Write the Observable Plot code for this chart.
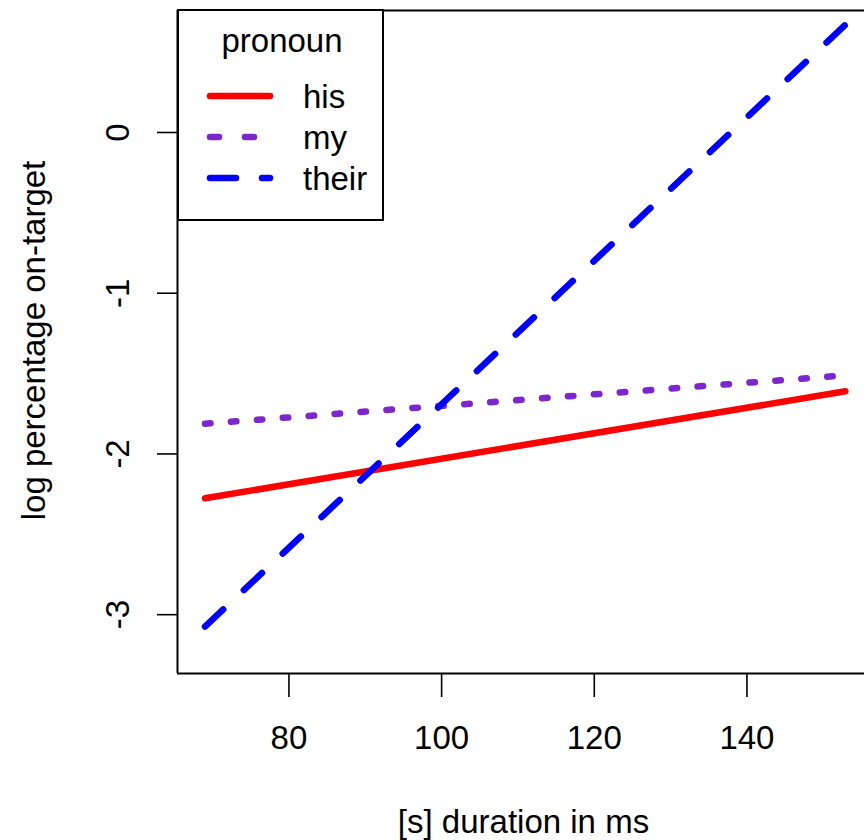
<!DOCTYPE html>
<html><head><meta charset="utf-8">
<script src="https://cdn.jsdelivr.net/npm/d3@7"></script>
<script src="https://cdn.jsdelivr.net/npm/@observablehq/plot@0.6"></script>
<style>
body{margin:0;background:#fff;font-family:"Liberation Sans",Arial,sans-serif;}
#wrap{position:relative;width:864px;height:840px;}
</style></head><body><div id="wrap"></div>
<script>
// ---- data ----
const pronouns = ["his", "my", "their"];
const durationMs = [69.0, 152.9];
const hisValues = [-2.276, -1.610];
const myValues = [-1.812, -1.511];
const theirValues = [-3.074, 0.670];
const xTicks = [80, 100, 120, 140];
const yTicks = [0, -1, -2, -3];
const xTitle = "[s] duration in ms";
const yTitle = "log percentage on-target";
const legendTitle = "pronoun";

const colors = {his: "#ff0000", my: "#7d26cd", their: "#0000ff"};
const dashes = {his: null, my: "5.5,20.5", their: "25,28.3"};
const legendDashes = {his: null, my: "9,26", their: "26,26"};

const seriesValues = {his: hisValues, my: myValues, their: theirValues};
const rows = pronouns.flatMap(p => durationMs.map((x, i) => ({pronoun: p, x, y: seriesValues[p][i]})));

const xDomain = [65.4, 155.4];
const yDomain = [-3.366, 0.759];
const FS = 33;

const lineMarks = pronouns.map(p => Plot.line(rows.filter(r => r.pronoun === p), {
  x: "x", y: "y", stroke: colors[p], strokeWidth: 6.5,
  strokeDasharray: dashes[p] || undefined, strokeLinecap: "round", strokeLinejoin: "round"
}));

const chart = Plot.plot({
  width: 864, height: 840,
  marginLeft: 177, marginRight: 0, marginTop: 10, marginBottom: 167,
  style: {fontFamily: "'Liberation Sans', Arial, sans-serif", background: "#fff", color: "#000"},
  x: {domain: xDomain},
  y: {domain: yDomain},
  marks: [
    ...lineMarks,
    Plot.ruleX([xDomain[0]], {stroke: "#000", strokeWidth: 2}),
    Plot.ruleY(yDomain, {stroke: "#000", strokeWidth: 2}),
    Plot.axisX(xTicks, {tickSize: 24, tickPadding: 28, fontSize: FS, label: null, strokeWidth: 1.6, stroke: "#000", fill: "#000"}),
    Plot.axisY(yTicks, {tickSize: 20, tickFormat: () => "", label: null, strokeWidth: 1.6, stroke: "#000"}),
    Plot.text(yTicks, {y: d => d, text: d => String(d), frameAnchor: "left", rotate: -90, dx: -49,
      textAnchor: "middle", lineAnchor: "bottom", fontSize: FS, fill: "#000"}),
    Plot.text([xTitle], {text: d => d, frameAnchor: "bottom", dx: 2.5, dy: 159, lineAnchor: "bottom", fontSize: FS, fill: "#000"}),
    Plot.text([yTitle], {text: d => d, frameAnchor: "left", rotate: -90, dx: -133, dy: -1.5,
      textAnchor: "middle", lineAnchor: "bottom", fontSize: FS, fill: "#000"})
  ]
});
document.getElementById("wrap").appendChild(chart);

// ---- legend (top-left inside the box, like R's legend("topleft")) ----
const svg = d3.select(chart);
const lg = svg.append("g").attr("font-family", "'Liberation Sans', Arial, sans-serif").attr("font-size", FS);
lg.append("rect").attr("x", 178).attr("y", 10).attr("width", 205).attr("height", 210)
  .attr("fill", "#fff").attr("stroke", "#000").attr("stroke-width", 2);
lg.append("text").attr("x", 282).attr("y", 52).attr("text-anchor", "middle").attr("fill", "#000").text(legendTitle);
const rowY = [96, 137, 178];
pronouns.forEach((p, i) => {
  lg.append("line").attr("x1", 210).attr("x2", 270).attr("y1", rowY[i]).attr("y2", rowY[i])
    .attr("stroke", colors[p]).attr("stroke-width", 6.5).attr("stroke-linecap", "round")
    .attr("stroke-dasharray", legendDashes[p]);
  lg.append("text").attr("x", 303).attr("y", rowY[i] + 11.5).attr("text-anchor", "start").attr("fill", "#000").text(p);
});
</script>
</body></html>
